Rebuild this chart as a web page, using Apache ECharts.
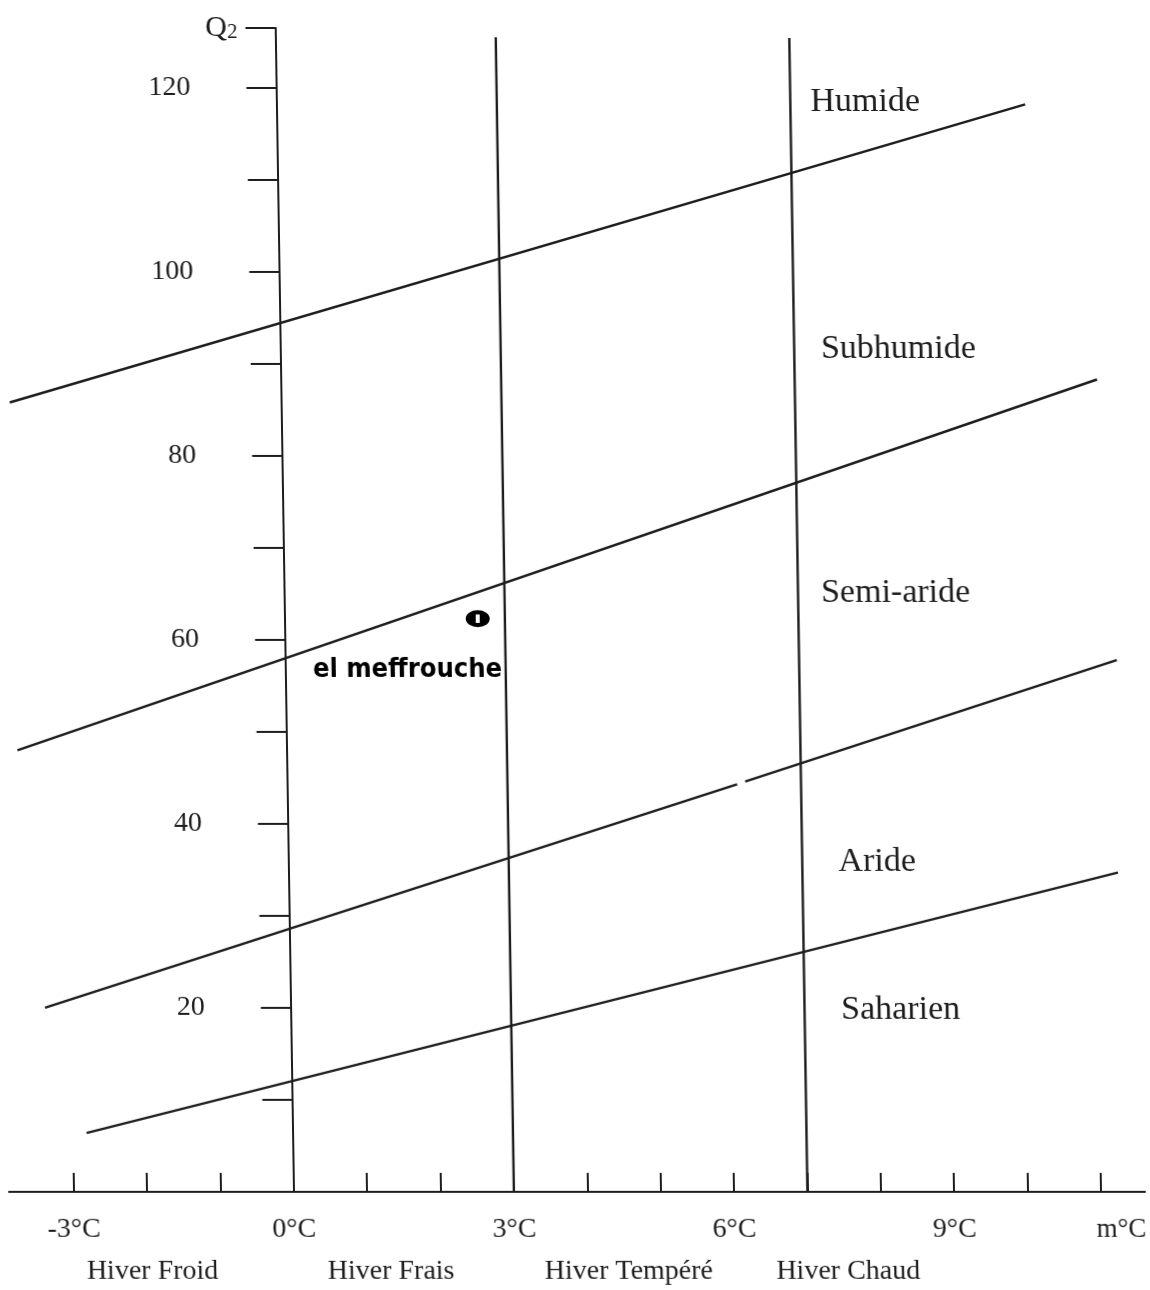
<!DOCTYPE html>
<html>
<head>
<meta charset="utf-8">
<script src="https://cdn.jsdelivr.net/npm/echarts@6/dist/echarts.min.js"></script>
<style>
    html, body { margin: 0; padding: 0; background: #fff; }
    /* the scanned figure leans a little: its verticals drift left towards the top */
    #climagramme {
        width: 1150px;
        height: 1290px;
        transform: skewX(0.9deg);
        transform-origin: 0 1192px;
    }
</style>
</head>
<body>
<div id="climagramme"></div>
<script>
// m (°C) ticks and labels
const xTickValues = [-3, -2, -1, 0, 1, 2, 3, 4, 5, 6, 7, 8, 9, 10, 11];
const xLabelValues = [-3, 0, 3, 6, 9, 11];
const xLabelTexts = ['-3°C', '0°C', '3°C', '6°C', '9°C', 'm°C'];
// Q2 labels
const yLabelValues = [20, 40, 60, 80, 100, 120];

// winter boundaries (vertical lines), 0°C is the Q2 axis itself
const winterBounds = [3, 7];
const winterTop = [125.5, 125.4];

// bioclimatic boundaries, [m, Q2]
const humideLine = [[-3.70, 85.8], [10.20, 118.2]];
const subhumideLine = [[-3.67, 48.0], [11.12, 88.3]];
const semiAridePart1 = [[-3.35, 20.0], [6.13, 44.3]];
const semiAridePart2 = [[6.24, 44.6], [11.33, 57.8]];
const arideLine = [[-2.81, 6.4], [11.30, 34.7]];

// station
const stationName = 'el meffrouche';
const stationM = 2.63;
const stationQ2 = 62.3;

// zone names
const zoneNames = ['Humide', 'Subhumide', 'Semi-aride', 'Aride', 'Saharien'];
const zoneM = [8.02, 8.42, 8.33, 8.02, 8.31];
const zoneQ2 = [118.4, 91.6, 65.1, 35.9, 19.8];

// winter types under the axis
const winterNames = ['Hiver Froid', 'Hiver Frais', 'Hiver Tempéré', 'Hiver Chaud'];
const winterM = [-1.94, 1.31, 4.55, 7.54];
const winterQ2 = [-8.7, -8.7, -8.7, -8.7];

const X_MIN = -3.88;
const X_MAX = 11.6;
const GRID_LEFT = 9;
const GRID_RIGHT = 5;
const WIDTH = 1150;

const ink = '#1d1d1d';
const serif = '"Liberation Serif", "DejaVu Serif", serif';
// black oval with a small white slit, as drawn on the scan
const stationSymbol = 'path://M0,8 A12,8 0 1,1 24,8 A12,8 0 1,1 0,8 Z M10,4 L10,12 L14,12 L14,4 Z';

// the Q2 axis sits on m = 0, not at the grid edge
const plotWidth = WIDTH - GRID_LEFT - GRID_RIGHT;
const yAxisShift = ((0 - X_MIN) / (X_MAX - X_MIN)) * plotWidth;

const chart = echarts.init(document.getElementById('climagramme'));

const lineSeries = (name, data) => ({
    name,
    type: 'line',
    data,
    symbol: 'none',
    clip: false,
    lineStyle: { color: ink, width: 2.4 },
});

const textSeries = (name, names, ms, q2s, fontSize) => ({
    name,
    type: 'scatter',
    clip: false,
    symbolSize: 1,
    itemStyle: { color: '#fff', opacity: 1 },
    data: names.map((n, i) => ({ name: n, value: [ms[i], q2s[i]] })),
    label: {
        show: true,
        position: 'inside',
        formatter: '{b}',
        color: ink,
        textBorderWidth: 0,
        fontFamily: serif,
        fontSize,
    },
});

const option = {
    animation: false,
    backgroundColor: '#fff',
    grid: {
        left: GRID_LEFT,
        right: GRID_RIGHT,
        top: 28,
        bottom: 98,
        containLabel: false,
        outerBoundsMode: 'none',
    },
    xAxis: {
        type: 'value',
        min: X_MIN,
        max: X_MAX,
        axisLine: { onZero: true, lineStyle: { color: ink, width: 2 } },
        axisTick: {
            show: true,
            inside: true,
            length: 19,
            customValues: xTickValues,
            lineStyle: { color: ink, width: 2 },
        },
        axisLabel: {
            customValues: xLabelValues,
            margin: 24,
            color: ink,
            fontFamily: serif,
            fontSize: 28,
            formatter: (v) => {
                const i = xLabelValues.indexOf(Math.round(v));
                if (i < 0) return '';
                return xLabelValues[i] === 11 ? '{m|' + xLabelTexts[i] + '}' : xLabelTexts[i];
            },
            rich: {
                m: { fontFamily: serif, fontSize: 27, color: ink, padding: [0, 0, 0, 40] },
            },
        },
        splitLine: { show: false },
    },
    yAxis: {
        type: 'value',
        position: 'left',
        offset: -yAxisShift,
        min: 0,
        max: 126.5,
        interval: 10,
        name: '{q|Q}{s|2}',
        nameLocation: 'end',
        nameGap: 0,
        nameTextStyle: {
            align: 'right',
            verticalAlign: 'middle',
            padding: [0, 38, 0, 0],
            rich: {
                q: { fontFamily: serif, fontSize: 30, color: ink, verticalAlign: 'bottom', lineHeight: 30 },
                s: { fontFamily: serif, fontSize: 21, color: ink, verticalAlign: 'bottom', lineHeight: 30, padding: [10, 0, 0, 0] },
            },
        },
        axisLine: { onZero: false, lineStyle: { color: ink, width: 2 } },
        axisTick: {
            show: true,
            inside: false,
            length: 30,
            lineStyle: { color: ink, width: 2 },
        },
        axisLabel: {
            margin: 86,
            color: ink,
            fontFamily: serif,
            fontSize: 28,
            padding: [0, 0, 14, 0],
            formatter: (v) => (yLabelValues.includes(v) ? String(v) : ''),
        },
        splitLine: { show: false },
    },
    series: [
        ...winterBounds.map((m, i) =>
            lineSeries('m = ' + m, [[m, 0], [m, winterTop[i]]])
        ),
        lineSeries('Humide / Subhumide', humideLine),
        lineSeries('Subhumide / Semi-aride', subhumideLine),
        lineSeries('Semi-aride / Aride', semiAridePart1),
        lineSeries('Semi-aride / Aride ', semiAridePart2),
        lineSeries('Aride / Saharien', arideLine),
        {
            name: 'station',
            type: 'scatter',
            data: [[stationM, stationQ2]],
            symbol: stationSymbol,
            symbolSize: [24, 17],
            itemStyle: { color: '#000', opacity: 1 },
            label: {
                show: true,
                position: 'inside',
                offset: [-71, 51],
                formatter: stationName,
                color: '#000',
                textBorderWidth: 0,
                fontFamily: '"DejaVu Sans Condensed", "Liberation Sans Narrow", sans-serif',
                fontWeight: 'bold',
                fontSize: 27,
            },
        },
        textSeries('zones', zoneNames, zoneM, zoneQ2, 34),
        textSeries('hivers', winterNames, winterM, winterQ2, 28),
    ],
};

chart.setOption(option);
</script>
</body>
</html>
